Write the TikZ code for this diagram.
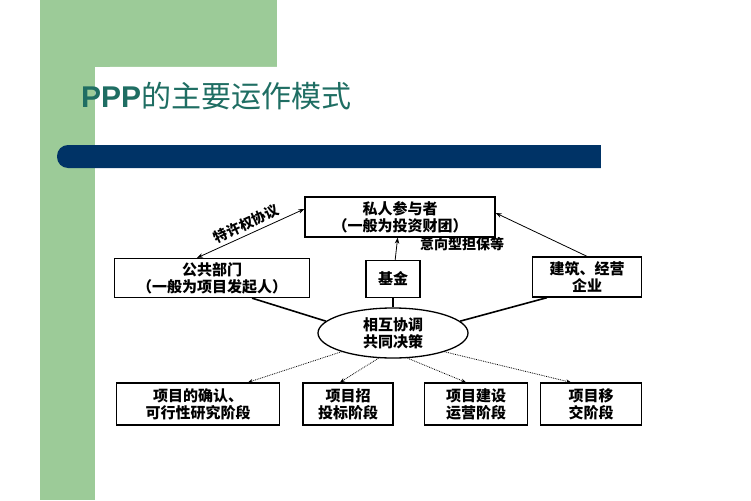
\documentclass[tikz,border=0pt]{standalone}
\usepackage{fontspec}
\setmainfont{Liberation Sans}
\newfontfamily\cjk{Noto Sans CJK SC}
\usetikzlibrary{arrows.meta,positioning,shapes.geometric}
\definecolor{slidegreen}{HTML}{9CCB98}
\definecolor{slideblue}{HTML}{003366}
\definecolor{titleteal}{HTML}{1F6E63}
\begin{document}
\begin{tikzpicture}[x=1pt,y=-1pt,
  box/.style={draw, line width=1.3pt, inner sep=1pt, align=center,
    font=\cjk\fontsize{15}{17}\selectfont\bfseries},
  arr/.style={-{Stealth[length=6pt]}, line width=0.8pt},
  link/.style={line width=1.6pt},
  dotarr/.style={-{Stealth[length=5pt]}, densely dotted, line width=0.8pt}
]
  \useasboundingbox (0,0) rectangle (751,500);
  % slide background
  \fill[slidegreen] (40,0) rectangle (95,500);
  \fill[slidegreen] (95,0) rectangle (277,67);
  \fill[white] (95,120) -- (95,82) arc[start angle=180, end angle=90, radius=15pt]
    -- (277,67) -- (277,120) -- cycle;
  \fill[slideblue, rounded corners=11pt] (57,145) rectangle (620,168);
  \fill[white] (601,140) rectangle (640,175);
  \node[anchor=west, inner sep=0pt, text=titleteal, font=\fontsize{30}{34}\selectfont]
    (title) at (81,96) {\textbf{PPP}{\cjk 的主要运作模式}};

  % actors
  \node[box, minimum width=190pt, minimum height=40pt] (priv) at (400,217)
    {私人参与者\\（一般为投资财团）};
  \node[box, minimum width=195pt, minimum height=39pt] (pub) at (212,278)
    {公共部门\\（一般为项目发起人）};
  \node[box, minimum width=54pt, minimum height=37pt] (fund) at (393,279) {基金};
  \node[box, minimum width=109pt, minimum height=40pt] (corp) at (587,277)
    {建筑、经营\\企业};
  \node[ellipse, draw, line width=1.3pt, minimum width=150pt, minimum height=50pt,
    inner sep=0pt, align=center, font=\cjk\fontsize{15}{17}\selectfont\bfseries]
    (coord) at (393,333) {相互协调\\共同决策};

  % stages
  \node[box, minimum width=163pt, minimum height=42pt] (s1) at (198,404)
    {项目的确认、\\可行性研究阶段};
  \node[box, minimum width=90pt, minimum height=42pt] (s2) at (348,404)
    {项目招\\投标阶段};
  \node[box, minimum width=103pt, minimum height=42pt] (s3) at (476,404)
    {项目建设\\运营阶段};
  \node[box, minimum width=101pt, minimum height=42pt] (s4) at (591,404)
    {项目移\\交阶段};

  % agreements
  \draw[arr, {Stealth[length=6pt]}-{Stealth[length=6pt]}] ([xshift=-15pt]pub.north)
    -- node[above, sloped, font=\cjk\fontsize{14}{16}\selectfont\bfseries]
    {特许权协议} ([yshift=8pt]priv.west);
  \draw[arr] (fund) -- (priv);
  \node[font=\cjk\fontsize{14}{16}\selectfont\bfseries] (guar) at (462,244) {意向型担保等};
  \draw[arr] (corp.north) -- ([yshift=4pt]priv.east);

  \draw[link] ([xshift=40pt]pub.south) -- (coord.170);
  \draw[link] (fund) -- (coord);
  \draw[link] ([xshift=-40pt]corp.south) -- (coord.10);

  % stage arrows
  \draw[dotarr] (coord.200) -- ([xshift=50pt]s1.north);
  \draw[dotarr] (coord.240) -- ([xshift=-8pt]s2.north);
  \draw[dotarr] (coord.300) -- ([xshift=-10pt]s3.north);
  \draw[dotarr] (coord.340) -- ([xshift=-20pt]s4.north);
\end{tikzpicture}
\end{document}
